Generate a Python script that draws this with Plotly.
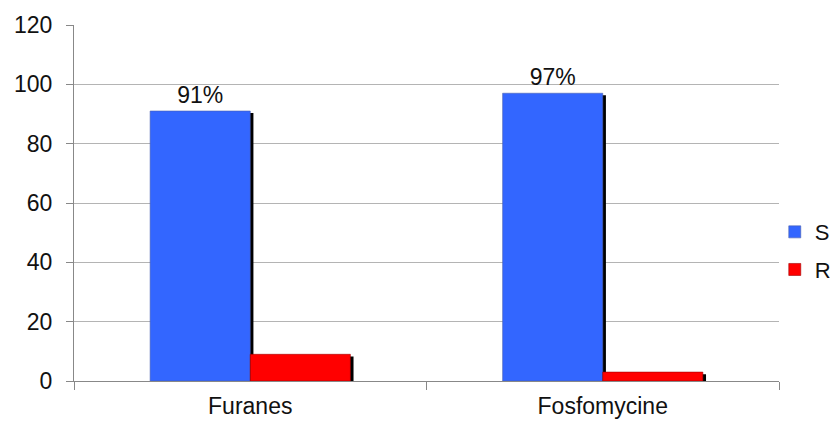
import plotly.graph_objects as go

categories = ["Furanes", "Fosfomycine"]
s_values = [91, 97]
r_values = [9, 3]
s_labels = ["91%", "97%"]
y_ticks = [0, 20, 40, 60, 80, 100, 120]

bar_w = 0.284
shadow_dx = 0.009
shadow_dy = 0.7
FONT = "Liberation Sans, Arial"

fig = go.Figure()
# shadows
for vals, off in [(s_values, -bar_w), (r_values, 0)]:
    fig.add_trace(go.Bar(
        x=categories, y=[v - shadow_dy + 0.3 for v in vals], base=[-0.3] * len(vals),
        width=bar_w, offset=off + shadow_dx,
        marker=dict(color="black", line=dict(width=0)),
        showlegend=False, hoverinfo="skip"))

fig.add_trace(go.Bar(
    name="S", x=categories, y=s_values, width=bar_w, offset=-bar_w,
    legendgroup="S",
    marker=dict(color="#3366ff", line=dict(color="#4a5fae", width=0.6)),
    text=s_labels, textposition="outside", cliponaxis=False,
    textfont=dict(family=FONT, size=23, color="#111111")))
fig.add_trace(go.Bar(
    name="R", x=categories, y=r_values, width=bar_w, offset=0,
    legendgroup="R",
    marker=dict(color="#ff0000", line=dict(color="#a00000", width=0.6))))

fig.update_layout(
    width=831, height=421,
    barmode="overlay",
    margin=dict(l=74, r=52, t=25, b=40, autoexpand=False),
    paper_bgcolor="white", plot_bgcolor="white",
    font=dict(family=FONT, size=23, color="#111111"),
    legend=dict(x=0.994, y=0.365, xanchor="left", yanchor="middle",
                font=dict(size=22), itemwidth=30, tracegroupgap=6,
                bgcolor="rgba(0,0,0,0)"),
    showlegend=True,
)
fig.update_yaxes(range=[0, 120], tickvals=y_ticks, showgrid=True,
                 gridcolor="#b4b4b4", gridwidth=1, zeroline=False,
                 showline=True, linecolor="#888888", linewidth=1,
                 ticks="outside", ticklen=7, tickcolor="#888888",
                 ticklabelstandoff=9,
                 tickfont=dict(size=23), automargin=False)
fig.update_xaxes(showline=True, linecolor="#888888", linewidth=1,
                 ticks="outside", ticklen=8, tickcolor="#888888",
                 tickson="boundaries", tickfont=dict(size=23),
                 ticklabelstandoff=4,
                 range=[-0.5, 1.5], automargin=False)

# remove the browser's default 8px body margin so the figure sits at 0,0
fig.write_html("out.html", config={"displayModeBar": False},
               post_script="document.body.style.margin='0';")
